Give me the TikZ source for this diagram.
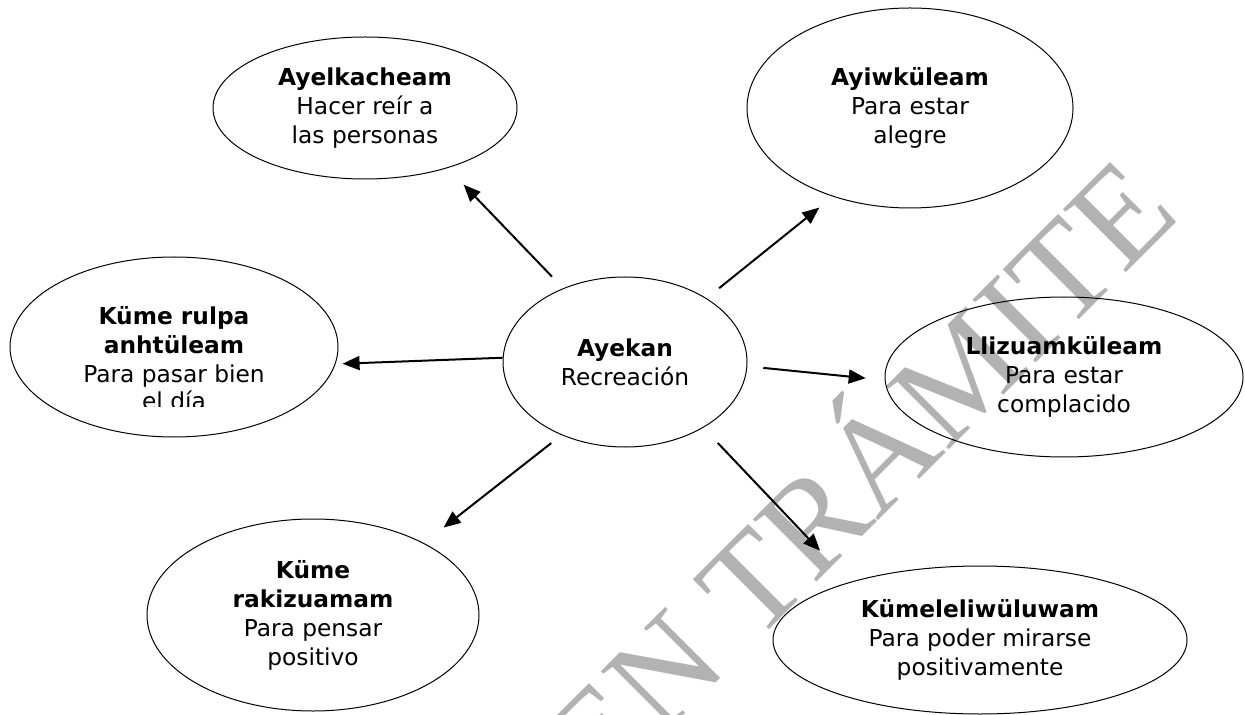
\documentclass[tikz,border=0pt]{standalone}
\usepackage{fontspec}
\setmainfont{DejaVu Sans}
\newfontfamily\marcafont{Liberation Serif}
\usetikzlibrary{positioning,arrows.meta,shapes.geometric}

\definecolor{marca}{RGB}{178,178,178}
\newcommand{\texto}{\fontsize{11.65}{14.5}\selectfont}

\begin{document}
\begin{tikzpicture}[
    x=0.5pt, y=-0.5pt,
    idea/.style={draw, ellipse, line width=0.5pt, inner sep=0pt, align=center, font=\texto},
    arrow/.style={-{Triangle[length=8.5pt, width=7pt]}, line width=1pt}
]
\useasboundingbox (0,0) rectangle (1245,715);

% --- Marca de agua ---
\node[rotate=45, anchor=base west, inner sep=0pt, text=marca, font=\marcafont\fontsize{68}{68}\selectfont] (tramite) at (602,797) {EN TRÁMITE};

% --- Nodo central ---
\node[idea, minimum width=122pt, minimum height=85pt] (centro) at (625,362) {\textbf{Ayekan}\\Recreación};

% --- Finalidades alrededor ---
\node[idea, minimum width=152pt, minimum height=71pt] (reir) at (365,108) {\textbf{Ayelkacheam}\\Hacer reír a\\las personas};
\node[idea, minimum width=163pt, minimum height=100pt] (alegre) at (910,108) {\textbf{Ayiwküleam}\\Para estar\\alegre};
\node[idea, minimum width=164pt, minimum height=90pt] (rulpa) at (174,347) {\textbf{Küme rulpa}\\\textbf{anhtüleam}\\Para pasar bien};
\node[idea, minimum width=179pt, minimum height=80pt] (complacido) at (1064,377) {\textbf{Llizuamküleam}\\Para estar\\complacido};
\node[idea, minimum width=166pt, minimum height=96pt] (pensar) at (313,615) {\textbf{Küme}\\\textbf{rakizuamam}\\Para pensar\\positivo};
\node[idea, minimum width=207pt, minimum height=74pt] (mirarse) at (980,640) {\textbf{Kümeleliwüluwam}\\Para poder mirarse\\positivamente};

% --- Ultima linea cortada por el cuadro de texto ---
\begin{scope}
  \clip (100,385) rectangle (250,406);
  \node[font=\texto, anchor=base] (dia) at (174,409) {el día};
\end{scope}

% --- Flechas desde el centro ---
\draw[arrow, shorten <=8pt, shorten >=11.5pt] (centro.130) -- (reir.-36);
\draw[arrow, shorten <=8pt, shorten >=8.75pt] (centro.38) -- (alegre.-131);
\draw[arrow, shorten >=3.5pt] (centro.178) -- (rulpa.-6);
\draw[arrow, shorten <=8pt, shorten >=9.5pt] (centro.-2) -- (complacido.-179);
\draw[arrow, shorten <=6.5pt, shorten >=12.5pt] (centro.-131) -- (pensar.33);
\draw[arrow, shorten <=10.5pt, shorten >=21.5pt] (centro.-40) -- (mirarse.156);

\end{tikzpicture}
\end{document}
